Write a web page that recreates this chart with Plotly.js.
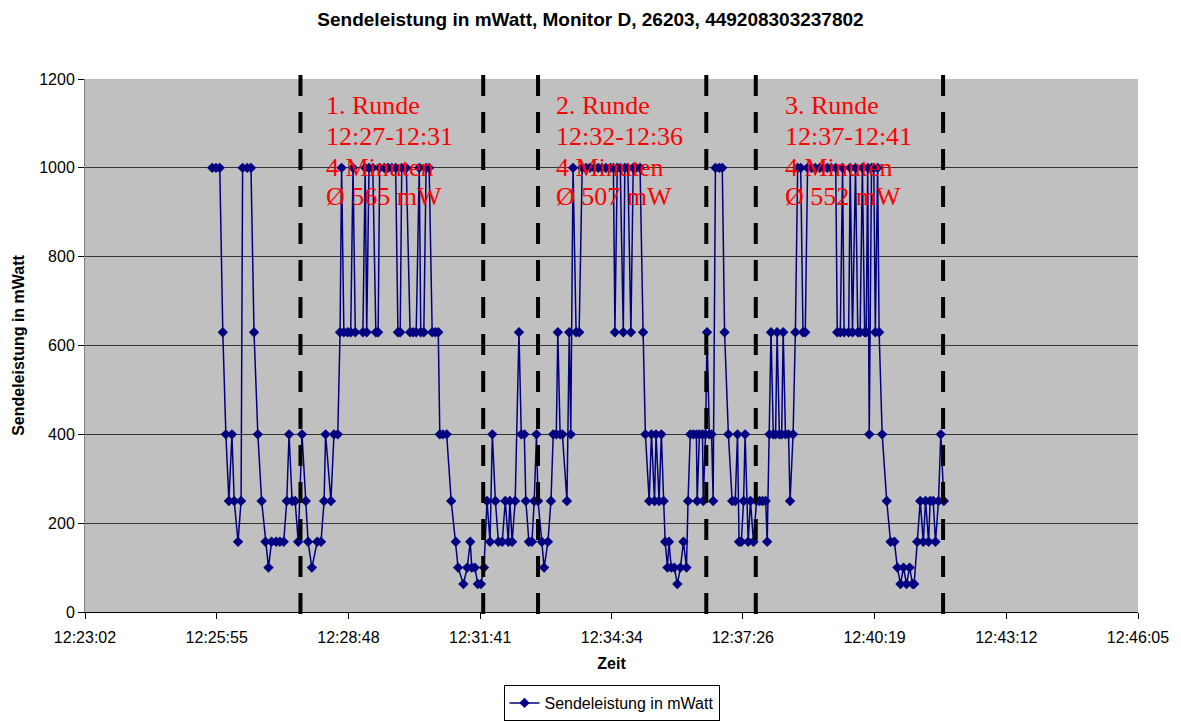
<!DOCTYPE html>
<html>
<head>
<meta charset="utf-8">
<script src="https://cdn.plot.ly/plotly-3.0.1.min.js"></script>
<style>
  html, body { margin: 0; padding: 0; background: #ffffff; }
  #chart { width: 1181px; height: 722px; }
</style>
</head>
<body>
<div id="chart"></div>
<script>
// ---- data ----
const chartTitle = 'Sendeleistung in mWatt, Monitor D, 26203, 449208303237802';
const seriesName = 'Sendeleistung in mWatt';
const xTitle = 'Zeit';
const yTitle = 'Sendeleistung in mWatt';

const zeit = [
 '12:25:49','12:25:54','12:25:59','12:26:03','12:26:07','12:26:11','12:26:15','12:26:18','12:26:23','12:26:27',
 '12:26:29','12:26:35','12:26:40','12:26:44','12:26:49','12:26:54','12:26:59','12:27:03','12:27:07','12:27:13',
 '12:27:18','12:27:23','12:27:27','12:27:30','12:27:34','12:27:38','12:27:42','12:27:47','12:27:52','12:27:55',
 '12:28:00','12:28:07','12:28:12','12:28:16','12:28:18','12:28:25','12:28:29','12:28:34','12:28:37','12:28:39',
 '12:28:42','12:28:47','12:28:51','12:28:54','12:28:57','12:29:07','12:29:10','12:29:12','12:29:15','12:29:20',
 '12:29:24','12:29:27','12:29:29','12:29:35','12:29:40','12:29:45','12:29:50','12:29:53','12:29:56','12:29:58',
 '12:30:04','12:30:09','12:30:13','12:30:17','12:30:21','12:30:23','12:30:27','12:30:30','12:30:34','12:30:38',
 '12:30:42','12:30:46','12:30:48','12:30:52','12:30:57','12:31:03','12:31:09','12:31:12','12:31:19','12:31:24',
 '12:31:28','12:31:30','12:31:34','12:31:38','12:31:42','12:31:46','12:31:50','12:31:54','12:31:57','12:32:01',
 '12:32:05','12:32:10','12:32:14','12:32:18','12:32:20','12:32:23','12:32:27','12:32:32','12:32:35','12:32:39',
 '12:32:41','12:32:45','12:32:49','12:32:52','12:32:55','12:32:57','12:33:02','12:33:05','12:33:10','12:33:14',
 '12:33:17','12:33:21','12:33:23','12:33:26','12:33:29','12:33:35','12:33:38','12:33:40','12:33:43','12:33:47',
 '12:33:51','12:33:55','12:34:00','12:34:05','12:34:11','12:34:16','12:34:21','12:34:26','12:34:32','12:34:36',
 '12:34:38','12:34:41','12:34:45','12:34:49','12:34:51','12:34:55','12:34:59','12:35:02','12:35:06','12:35:11',
 '12:35:15','12:35:18','12:35:23','12:35:26','12:35:30','12:35:32','12:35:36','12:35:39','12:35:42','12:35:44',
 '12:35:47','12:35:49','12:35:52','12:35:56','12:36:00','12:36:04','12:36:08','12:36:12','12:36:14','12:36:17',
 '12:36:21','12:36:25','12:36:26','12:36:29','12:36:33','12:36:34','12:36:37','12:36:39','12:36:42','12:36:45',
 '12:36:47','12:36:50','12:36:55','12:36:59','12:37:02','12:37:07','12:37:12','12:37:16','12:37:19','12:37:21',
 '12:37:24','12:37:27','12:37:29','12:37:33','12:37:36','12:37:40','12:37:44','12:37:48','12:37:52','12:37:56',
 '12:37:58','12:38:01','12:38:03','12:38:06','12:38:09','12:38:11','12:38:14','12:38:17','12:38:19','12:38:22',
 '12:38:26','12:38:28','12:38:32','12:38:35','12:38:38','12:38:42','12:38:45','12:38:48','12:38:51','12:38:56',
 '12:39:01','12:39:07','12:39:12','12:39:17','12:39:22','12:39:28','12:39:30','12:39:34','12:39:37','12:39:39',
 '12:39:45','12:39:47','12:39:50','12:39:54','12:39:57','12:40:00','12:40:03','12:40:06','12:40:08','12:40:10',
 '12:40:12','12:40:15','12:40:18','12:40:20','12:40:23','12:40:25','12:40:29','12:40:35','12:40:40','12:40:45',
 '12:40:49','12:40:53','12:40:57','12:41:01','12:41:05','12:41:09','12:41:11','12:41:15','12:41:19','12:41:23',
 '12:41:26','12:41:30','12:41:32','12:41:36','12:41:39','12:41:43','12:41:46','12:41:50'
];

const leistung = [
 1000,1000,1000,630,400,250,400,250,158,250,
 1000,1000,1000,630,400,250,158,100,158,158,
 158,158,250,400,250,250,158,400,250,158,
 100,158,158,250,400,250,400,400,630,1000,
 630,630,630,1000,630,630,1000,630,1000,1000,
 630,630,1000,1000,1000,1000,1000,630,630,1000,
 1000,630,630,630,1000,630,630,1000,1000,630,
 630,630,400,400,400,250,158,100,63,100,
 158,100,100,63,63,100,250,158,400,250,
 158,158,250,158,250,158,250,630,400,400,
 250,158,158,250,400,250,158,100,158,250,
 400,400,630,400,400,250,630,400,1000,630,
 630,1000,1000,1000,1000,1000,1000,1000,1000,1000,
 630,1000,1000,630,1000,1000,630,1000,1000,1000,
 630,400,250,400,250,400,250,400,250,158,
 100,158,100,100,63,100,158,100,250,400,
 400,400,250,400,400,250,400,630,400,400,
 250,1000,1000,1000,630,400,250,250,400,158,
 158,250,400,158,250,158,250,250,250,250,
 158,400,630,400,400,630,400,400,630,400,
 400,250,400,630,1000,1000,630,630,1000,1000,
 1000,1000,1000,1000,1000,1000,630,630,1000,630,
 630,1000,630,1000,630,630,1000,630,630,1000,
 400,1000,1000,630,1000,630,400,250,158,158,
 100,63,100,63,100,63,63,158,250,158,
 250,158,250,250,158,250,400,250
];

const tickLabels = ['12:23:02','12:25:55','12:28:48','12:31:41','12:34:34','12:37:26','12:40:19','12:43:12','12:46:05'];
const rundenGrenzen = ['12:27:45','12:31:45','12:32:57','12:36:38','12:37:43','12:41:49'];

const runde1 = ['1. Runde','12:27-12:31','4 Minuten','Ø 565 mW'];
const runde2 = ['2. Runde','12:32-12:36','4 Minuten','Ø 507 mW'];
const runde3 = ['3. Runde','12:37-12:41','4 Minuten','Ø 552 mW'];

// ---- build ----
const day = '2000-01-01 ';
const toDate = t => day + t;

const trace = {
  type: 'scatter',
  mode: 'lines+markers',
  name: seriesName,
  x: zeit.map(toDate),
  y: leistung,
  line: { color: '#000080', width: 1.5 },
  marker: { symbol: 'diamond', size: 8, color: '#000080', line: { width: 0 } }
};

const shapes = rundenGrenzen.map(t => ({
  type: 'line', xref: 'x', yref: 'paper',
  x0: toDate(t), x1: toDate(t), y0: 1.0075, y1: -0.0145,
  line: { color: '#000000', width: 4, dash: '21px,16px' },
  layer: 'above'
}));

const blockX = [0.2277, 0.4462, 0.6637];
const lineY = [0.9497, 0.8918, 0.8340, 0.7790];
const annotations = [];
[runde1, runde2, runde3].forEach((blk, bi) => {
  blk.forEach((txt, li) => {
    annotations.push({
      xref: 'paper', yref: 'paper', x: blockX[bi], y: lineY[li],
      xanchor: 'left', yanchor: 'middle', showarrow: false, text: txt,
      font: { family: 'Liberation Serif, Times New Roman, serif', size: 26, color: '#FF0000' },
      borderpad: 0
    });
  });
});

const axisFont = { family: 'Liberation Sans, Arial, sans-serif', size: 16, color: '#000000' };

const layout = {
  width: 1181, height: 722,
  margin: { l: 85, r: 43, t: 79, b: 110, pad: 0, autoexpand: false },
  paper_bgcolor: '#ffffff',
  plot_bgcolor: '#C0C0C0',
  title: {
    text: chartTitle,
    font: { family: 'Liberation Sans, Arial, sans-serif', size: 19, color: '#000000', weight: 'bold' },
    xref: 'container', x: 0.5, xanchor: 'center',
    yref: 'container', y: 1 - 19 / 722, yanchor: 'middle'
  },
  xaxis: {
    type: 'date',
    range: [toDate(tickLabels[0]), toDate(tickLabels[tickLabels.length - 1])],
    tickmode: 'array',
    tickvals: tickLabels.map(toDate),
    ticktext: tickLabels,
    ticks: 'outside', ticklen: 6, tickcolor: '#000000', tickwidth: 1,
    ticklabelstandoff: 5,
    showline: true, linecolor: '#000000', linewidth: 1,
    showgrid: false, zeroline: false,
    tickfont: axisFont,
    title: { text: xTitle, font: { family: 'Liberation Sans, Arial, sans-serif', size: 16, color: '#000', weight: 'bold' }, standoff: 12 },
    automargin: false
  },
  yaxis: {
    range: [0, 1200], dtick: 200, tick0: 0,
    ticks: 'outside', ticklen: 6, tickcolor: '#000000', tickwidth: 1,
    showline: true, linecolor: '#808080', linewidth: 1,
    showgrid: true, gridcolor: '#333333', gridwidth: 1,
    zeroline: false,
    tickfont: axisFont,
    title: { text: yTitle, font: { family: 'Liberation Sans, Arial, sans-serif', size: 16, color: '#000', weight: 'bold' }, standoff: 10 },
    automargin: false
  },
  showlegend: true,
  legend: {
    orientation: 'h', x: 0.5, xanchor: 'center',
    yref: 'container', y: 1 - 685 / 722, yanchor: 'top',
    bgcolor: '#ffffff', bordercolor: '#000000', borderwidth: 1,
    font: { family: 'Liberation Sans, Arial, sans-serif', size: 16, color: '#000' }
  },
  shapes: shapes,
  annotations: annotations
};

Plotly.newPlot('chart', [trace], layout, { displayModeBar: false, staticPlot: true });
</script>
</body>
</html>
